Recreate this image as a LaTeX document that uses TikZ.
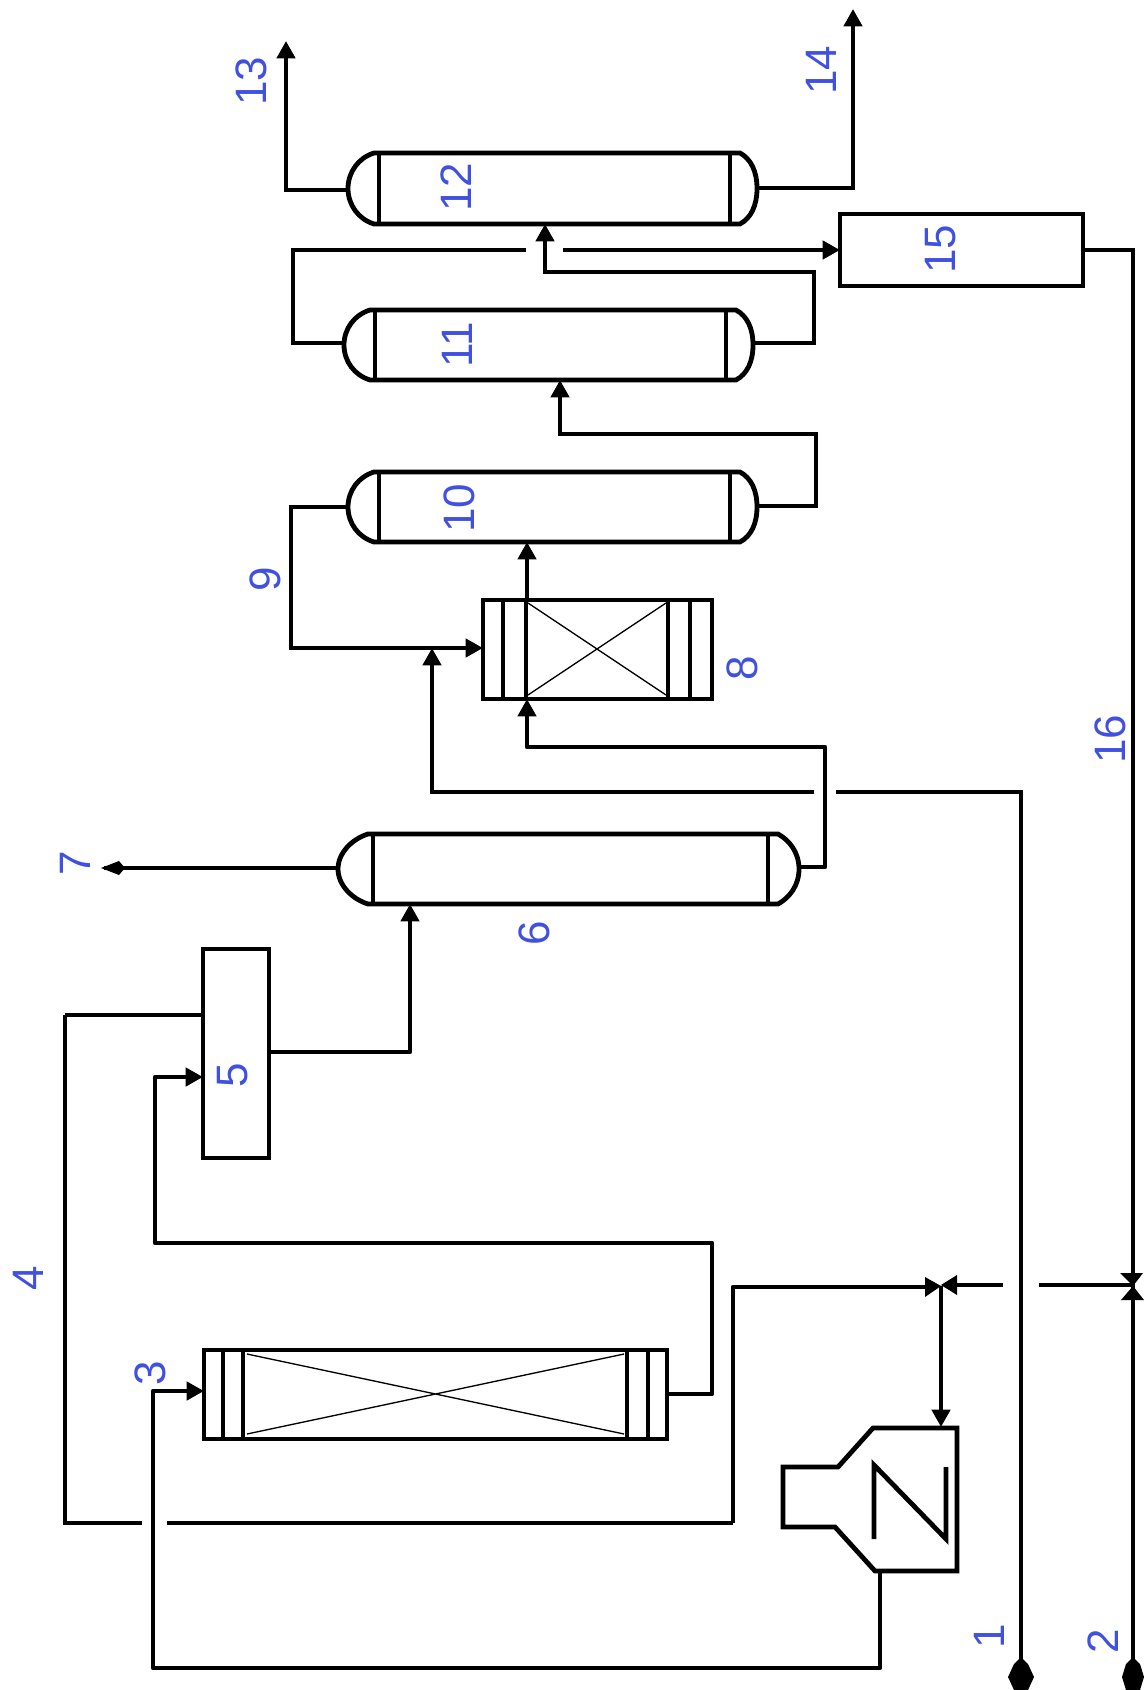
\documentclass[tikz,border=0pt]{standalone}
\usepackage{fontspec}
\setmainfont{Liberation Sans}
\usetikzlibrary{arrows.meta,calc}
\definecolor{labelblue}{RGB}{64,80,224}
\tikzset{
  heavy/.style={line width=3.6pt,line cap=butt,line join=miter,draw=black},
  light/.style={line width=3.3pt,line cap=butt,line join=round,draw=black},
  hair/.style={line width=1pt,draw=black},
  tip/.style={-{Triangle[length=13pt,width=13.5pt]}},
  flowtip/.style={heavy,tip},
  lightflowtip/.style={light,tip},
  hit/.style={inner sep=0pt,outer sep=0pt},
  unitbox/.style={draw=black,line width=3.7pt,inner sep=0pt,outer sep=0pt},
  lab/.style={text=labelblue,rotate=90,inner sep=0pt,font=\fontsize{33}{33}\selectfont},
  solid fill/.style={fill=black,draw=none}
}
% name, left end, left tangent, right tangent, right end, top, bottom
\newcommand{\vesselshape}[7]{%
  \pgfmathsetmacro{\vc}{(#6+#7)/2}%
  \pgfmathsetmacro{\vx}{(#2+#5)/2}%
  \pgfmathsetmacro{\vw}{(#5-#2)*0.75}%
  \pgfmathsetmacro{\vh}{(#7-#6)*0.75}%
  \pgfmathsetmacro{\la}{#3-5}%
  \pgfmathsetmacro{\ra}{#4+10}%
  \pgfmathsetmacro{\lb}{#3-20.6}%
  \pgfmathsetmacro{\rb}{#4+21}%
  \draw[heavy] (\la,#6) -- (\ra,#6) .. controls (\rb,#6+6) and (#5,\vc-17) .. (#5,\vc)
     .. controls (#5,\vc+17) and (\rb,#7-6) .. (\ra,#7) -- (\la,#7)
     .. controls (\lb,#7-4.8) and (#2,\vc+16.3) .. (#2,\vc)
     .. controls (#2,\vc-16.3) and (\lb,#6+4.8) .. (\la,#6) -- cycle;
  \draw[heavy] (#3,#6) -- (#3,#7) (#4,#6) -- (#4,#7);
  \node[hit,minimum width=\vw pt,minimum height=\vh pt] (#1) at (\vx,\vc) {};
}
\newcommand{\plainbox}[5]{%
  \pgfmathsetmacro{\vw}{(#4-#2)*0.75}%
  \pgfmathsetmacro{\vh}{(#5-#3)*0.75}%
  \node[unitbox,minimum width=\vw pt,minimum height=\vh pt] (#1) at ({(#2+#4)/2},{(#3+#5)/2}) {};
}
\begin{document}
\begin{tikzpicture}[x=0.75pt,y=-0.75pt]
\useasboundingbox (0,0) rectangle (1144,1690);

% vessels
\vesselshape{v12}{348}{379}{730}{757}{153}{224}
\vesselshape{v11}{344}{375}{726}{753}{310}{380}
\vesselshape{v10}{348}{379}{730}{757}{472}{542}
\vesselshape{v6}{338}{373}{768}{799}{834}{904}

% boxes
\plainbox{b15}{840}{214}{1083}{286}
\plainbox{b5}{203}{949}{269}{1158}
\plainbox{b8}{483}{600}{712}{699}
\plainbox{b3}{204}{1350}{667}{1439}

% reactor 8 internals
\draw[heavy] (503,600) -- (503,699) (526,600) -- (526,699) (668,600) -- (668,699) (690,600) -- (690,699);
\draw[hair] (528,603) -- (666,695) (528,695) -- (666,603);
% reactor 3 internals
\draw[heavy] (223,1350) -- (223,1439) (243,1350) -- (243,1439) (627,1350) -- (627,1439) (648,1350) -- (648,1439);
\draw[hair] (247,1354) -- (624,1434) (247,1434) -- (624,1354);

% furnace
\node[hit,minimum width=130pt,minimum height=108pt] (fur) at (870,1499) {};
\draw[heavy] (957,1428) -- (873,1428) -- (838,1467) -- (783,1467) -- (783,1527) -- (835,1527) -- (875,1571) -- (957,1571) -- cycle;
\draw[heavy] (874,1539) -- (874,1465) -- (946,1539) -- (946,1467);

% free coordinates
\coordinate (c13) at (286,41);
\coordinate (c14) at (853,9);
\coordinate (in1) at (1021,1664);
\coordinate (in2) at (1133,1664);
\coordinate (v1) at (941,1286);
\coordinate (v2) at (1133,1285);
\coordinate (g1a) at (814,792);
\coordinate (g1b) at (836,792);
\coordinate (g2a) at (526,250);
\coordinate (g2b) at (563,250);
\coordinate (g3a) at (142,1523);
\coordinate (g3b) at (167,1523);
\coordinate (g4a) at (1003,1285);
\coordinate (g4b) at (1039,1285);
\coordinate (c7) at (104,868);

% top products
\draw[flowtip] (v12.west |- 0,190) -| (c13);
\draw[flowtip] (v12.east |- 0,188) -| (c14);

% 11 -> 15 with gap
\draw[heavy] (v11.west |- 0,343) -| (293,250) -- (g2a);
\draw[flowtip] (g2b) -- (b15.west |- g2b);
% 11 -> 12
\draw[flowtip] (v11.east |- 0,343) -| (814,272) -| (v12.south -| 545,0);
% 10 -> 11
\draw[flowtip] (v10.east |- 0,506) -| (816,434) -| (v11.south -| 560,0);
% 8 -> 10
\draw[flowtip] (b8.north -| 527,0) -- (v10.south -| 527,0);
% 10 -> 8 (9)
\draw[flowtip] (v10.west) -| (291,648) -- (b8.west |- 0,648);
% 1 -> 8 line, with gap
\draw[heavy] (in1) |- (g1b);
\draw[flowtip] (g1a) -| (432,648);
% 6 -> 8
\draw[light] (v6.east |- 0,867) -| (825,747) -- (527,747) -- (527,720);
\draw[lightflowtip] (527,722) -- (b8.south -| 527,0);

% 15 -> valve
\draw[heavy] (b15.east |- 0,250) -| (v2);
% stream 2
\draw[heavy] (in2) -- (v2);
% valve branch, with gap
\draw[heavy] (v2) -- (g4b);
\draw[heavy] (g4a) -- (957,1285);
\draw[light] (925,1287) -- (733,1287) -- (733,1523);
\draw[lightflowtip] (v1) -- (fur.north -| v1);
\draw[heavy] (733,1523) -- (g3b);
\draw[heavy] (g3a) -| (65,1015);
\draw[light] (65,1015) -- (b5.west |- 0,1015);
% furnace -> 3
\draw[light] (880,1571) -- (880,1668) -- (153,1668) -- (153,1391) -- (175,1391);
\draw[lightflowtip] (173,1391) -- (b3.west |- 0,1391);
% 3 -> 5
\draw[light] (b3.east |- 0,1394) -| (712,1243) -| (155,1077) -- (175,1077);
\draw[lightflowtip] (173,1077) -- (b5.west |- 0,1077);
% 5 -> 6
\draw[light] (b5.east |- 0,1052) -| (410,930);
\draw[lightflowtip] (410,932) -- (v6.south -| 410,0);
% 6 -> 7
\draw[light] (v6.west |- c7) -- (c7);

% valves
\fill[solid fill] (925,1277) -- (941,1286) -- (925,1297) -- cycle;
\fill[solid fill] (957,1275) -- (941,1285) -- (957,1295) -- cycle;
\fill[solid fill] (1120,1273) -- (1143,1273) -- (1133,1286) -- cycle;
\fill[solid fill] (1121,1300) -- (1144,1300) -- (1133,1286) -- cycle;
% inlet heads
\fill[solid fill] (1021,1657) -- (1028,1664) -- (1034,1677) -- (1028,1690) -- (1014,1690) -- (1008,1677) -- (1014,1664) -- cycle;
\fill[solid fill] (1133,1657) -- (1140,1664) -- (1144,1677) -- (1140,1690) -- (1126,1690) -- (1122,1677) -- (1126,1664) -- cycle;
% head of 7
\fill[solid fill] (101,868) -- (119,861) -- (125,868) -- (119,875) -- cycle;

% labels
\node[lab] (l1) at (989,1636) {1};
\node[lab] (l2) at (1103,1641) {2};
\node[lab] (l3) at (150,1373) {3};
\node[lab] (l4) at (28,1278) {4};
\node[lab] (l5) at (233,1075) {5};
\node[lab] (l6) at (534,933) {6};
\node[lab] (l7) at (75,863) {7};
\node[lab] (l8) at (742,668) {8};
\node[lab] (l9) at (265,579) {9};
\node[lab] (l10) at (459,508) {10};
\node[lab] (l11) at (457,345) {11};
\node[lab] (l12) at (456,187) {12};
\node[lab] (l13) at (251,81) {13};
\node[lab] (l14) at (821,70) {14};
\node[lab] (l15) at (941,249) {15};
\node[lab] (l16) at (1110,739) {16};
\end{tikzpicture}
\end{document}
